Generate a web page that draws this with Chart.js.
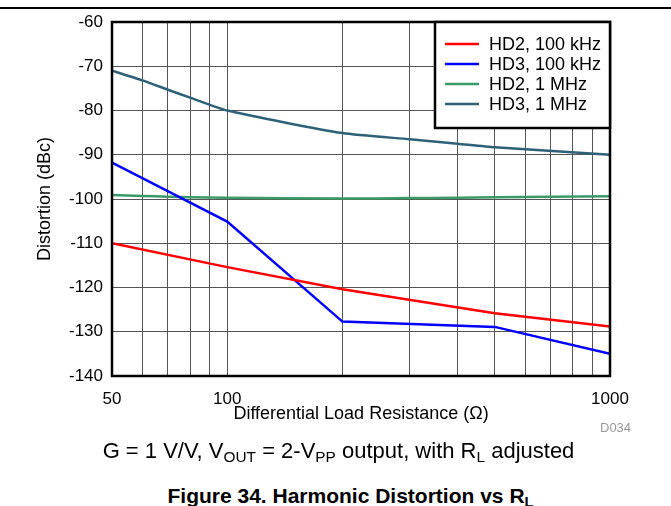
<!DOCTYPE html>
<html>
<head>
<meta charset="utf-8">
<script src="https://cdn.jsdelivr.net/npm/chart.js@4"></script>
<style>
  body { margin: 0; background: #fff; font-family: "Liberation Sans", Arial, sans-serif; }
  #page { position: relative; width: 671px; height: 506px; overflow: hidden; }
  #rule { position: absolute; left: 0; top: 7px; width: 671px; height: 2px; background: #000; }
  #wrap { position: absolute; left: 0; top: 0; width: 671px; height: 440px; }
  .txt { position: absolute; left: 0; width: 671px; text-align: center; color: #000; white-space: nowrap; }
  #caption { top: 438px; font-size: 22px; padding-left: 6px; box-sizing: border-box; }
  #figtitle { top: 484px; font-size: 21px; font-weight: bold; padding-left: 30px; box-sizing: border-box; }
  sub { font-size: 70%; vertical-align: -0.25em; }
  #dcode { position: absolute; left: 600px; top: 420px; font-size: 13px; color: #999; }
</style>
</head>
<body>
<div id="page">
  <div id="rule"></div>
  <div id="wrap"><canvas id="chart"></canvas></div>
  <div id="dcode">D034</div>
  <div id="caption" class="txt">G = 1 V/V, V<sub>OUT</sub> = 2-V<sub>PP</sub> output, with R<sub>L</sub> adjusted</div>
  <div id="figtitle" class="txt">Figure 34. Harmonic Distortion vs R<sub>L</sub></div>
</div>
<script>
// ---- dados ----
const loadFew = [50, 100, 200, 500, 1000];
const loadMany = [50, 60, 70, 80, 100, 200, 300, 400, 500, 1000];

const hd2_100k = [-110, -115.4, -120.4, -125.8, -128.8];
const hd3_100k = [-91.8, -105.1, -127.7, -128.9, -135.0];
const hd2_1M = [-99.1, -99.3, -99.5, -99.6, -99.7, -99.9, -99.8, -99.7, -99.6, -99.4];
const hd3_1M = [-71.0, -73.2, -75.3, -77.1, -80.0, -85.1, -86.5, -87.5, -88.3, -90.0];

const seriesNames = ['HD2, 100 kHz', 'HD3, 100 kHz', 'HD2, 1 MHz', 'HD3, 1 MHz'];
const seriesColors = ['#ff0000', '#0000ff', '#3a9a68', '#2e6178'];

const xTicks = [50, 60, 70, 80, 90, 100, 200, 300, 400, 500, 600, 700, 800, 900, 1000];
const xLabels = [50, 100, 1000];

const toXY = (xs, ys) => ys.map((y, i) => ({ x: xs[i], y: y }));
const FONT = '"Liberation Sans", Arial, sans-serif';

// moldura do gráfico
const framePlugin = {
    id: 'frame',
    afterDatasetsDraw(chart) {
        const a = chart.chartArea;
        const ctx = chart.ctx;
        ctx.save();
        ctx.strokeStyle = '#000';
        ctx.lineWidth = 2.5;
        ctx.strokeRect(a.left, a.top, a.right - a.left, a.bottom - a.top);
        ctx.restore();
    }
};

// legenda com caixa (canto superior direito)
const legendBoxPlugin = {
    id: 'legendBox',
    afterDraw(chart) {
        const a = chart.chartArea;
        const ctx = chart.ctx;
        const w = 175, h = 106;
        const x0 = a.right - w, y0 = a.top;
        ctx.save();
        ctx.fillStyle = '#fff';
        ctx.fillRect(x0, y0, w, h);
        ctx.strokeStyle = '#000';
        ctx.lineWidth = 2.5;
        ctx.strokeRect(x0, y0, w, h);
        ctx.font = '18px ' + FONT;
        ctx.textBaseline = 'middle';
        chart.data.datasets.forEach((ds, i) => {
            const y = y0 + 22 + i * 20;
            ctx.strokeStyle = ds.borderColor;
            ctx.lineWidth = 2.5;
            ctx.beginPath();
            ctx.moveTo(x0 + 10, y);
            ctx.lineTo(x0 + 44, y);
            ctx.stroke();
            ctx.fillStyle = '#000';
            ctx.fillText(ds.label, x0 + 54, y + 1);
        });
        ctx.restore();
    }
};

new Chart(document.getElementById('chart'), {
    type: 'line',
    data: {
        datasets: [
            { label: seriesNames[0], data: toXY(loadFew, hd2_100k), borderColor: seriesColors[0], tension: 0 },
            { label: seriesNames[1], data: toXY(loadFew, hd3_100k), borderColor: seriesColors[1], tension: 0 },
            { label: seriesNames[2], data: toXY(loadMany, hd2_1M), borderColor: seriesColors[2], tension: 0.2 },
            { label: seriesNames[3], data: toXY(loadMany, hd3_1M), borderColor: seriesColors[3], tension: 0.2 }
        ].map(ds => Object.assign(ds, { borderWidth: 2.5, pointRadius: 0, fill: false }))
    },
    options: {
        responsive: true,
        maintainAspectRatio: false,
        animation: false,
        layout: { padding: { top: 22, right: 61, left: 0, bottom: 0 } },
        plugins: { legend: { display: false }, tooltip: { enabled: false } },
        scales: {
            x: {
                type: 'logarithmic',
                min: 50,
                max: 1000,
                afterBuildTicks: s => { s.ticks = xTicks.map(v => ({ value: v })); },
                afterFit: s => { s.height = 64; },
                ticks: {
                    autoSkip: false,
                    maxRotation: 0,
                    padding: 13,
                    color: '#000',
                    font: { family: FONT, size: 17 },
                    callback: v => xLabels.includes(v) ? String(v) : ''
                },
                grid: { color: '#555', lineWidth: 1, drawTicks: false },
                border: { display: false },
                title: {
                    display: true,
                    text: 'Differential Load Resistance (Ω)',
                    color: '#000',
                    font: { family: FONT, size: 18 },
                    padding: { top: 0, bottom: 15 }
                }
            },
            y: {
                min: -140,
                max: -60,
                afterFit: s => { s.width = 112; },
                ticks: {
                    stepSize: 10,
                    padding: 9,
                    color: '#000',
                    font: { family: FONT, size: 17 }
                },
                grid: { color: '#555', lineWidth: 1, drawTicks: false },
                border: { display: false },
                title: {
                    display: true,
                    text: 'Distortion (dBc)',
                    color: '#000',
                    font: { family: FONT, size: 18 },
                    padding: { top: 34, bottom: 0 }
                }
            }
        }
    },
    plugins: [framePlugin, legendBoxPlugin]
});
</script>
</body>
</html>
